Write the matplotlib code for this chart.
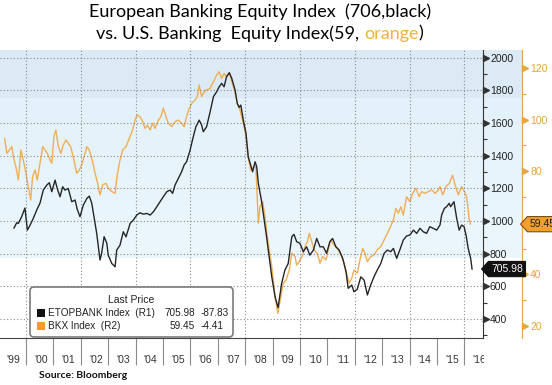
import numpy as np
import matplotlib
matplotlib.use('Agg')
import matplotlib.pyplot as plt
from matplotlib.path import Path
from matplotlib.patches import FancyBboxPatch, Rectangle
from matplotlib.transforms import blended_transform_factory, Bbox, TransformedBbox, IdentityTransform

# ETOPBANK Index (left scale, black)
etop_t = [1999.56, 1999.66, 1999.72, 1999.84, 1999.96,
          2000.05, 2000.15, 2000.27, 2000.39, 2000.51, 2000.63, 2000.76, 2000.85, 2000.94,
          2001.06, 2001.14, 2001.24, 2001.34, 2001.42, 2001.54, 2001.67, 2001.79, 2001.87, 2001.97,
          2002.09, 2002.22, 2002.31, 2002.40, 2002.48, 2002.58, 2002.70, 2002.76, 2002.85, 2002.95,
          2003.00, 2003.13, 2003.25, 2003.31, 2003.43, 2003.55, 2003.65, 2003.80, 2003.92,
          2004.04, 2004.16, 2004.28, 2004.41, 2004.53, 2004.65, 2004.77, 2004.89,
          2005.01, 2005.14, 2005.26, 2005.35, 2005.44, 2005.56, 2005.68, 2005.77, 2005.86, 2005.99,
          2006.08, 2006.20, 2006.32, 2006.41, 2006.47, 2006.59, 2006.72, 2006.84, 2006.96,
          2007.05, 2007.14, 2007.23, 2007.32, 2007.42, 2007.51, 2007.63, 2007.71, 2007.78, 2007.84, 2007.93,
          2008.03, 2008.11, 2008.20, 2008.27, 2008.36, 2008.42, 2008.48, 2008.60, 2008.78, 2008.97,
          2009.09, 2009.20, 2009.33, 2009.45, 2009.57, 2009.70, 2009.78, 2009.88,
          2010.00, 2010.12, 2010.24, 2010.36, 2010.49, 2010.61, 2010.73, 2010.85, 2010.97,
          2011.09, 2011.19, 2011.31, 2011.43, 2011.56, 2011.68, 2011.76, 2011.89, 2011.97,
          2012.09, 2012.22, 2012.34, 2012.46, 2012.58, 2012.70, 2012.82, 2012.95,
          2013.07, 2013.19, 2013.31, 2013.41, 2013.53, 2013.65, 2013.77, 2013.89,
          2014.01, 2014.14, 2014.26, 2014.38, 2014.50, 2014.62, 2014.74, 2014.86, 2014.99,
          2015.11, 2015.17, 2015.27, 2015.35, 2015.45, 2015.50, 2015.62, 2015.72, 2015.81, 2015.90, 2015.99,
          2016.06, 2016.14, 2016.23, 2016.28]
etop_v = [957, 989, 985, 1026, 1079,
          944, 975, 1018, 1067, 1109, 1189, 1220, 1234, 1179,
          1250, 1199, 1148, 1209, 1189, 1199, 1118, 1128, 1071, 1026,
          1097, 1138, 1152, 1108, 1026, 924, 761, 802, 904, 863,
          791, 740, 720, 822, 852, 934, 903, 985, 1006,
          1036, 1050, 1042, 1046, 1036, 1056, 1087, 1118,
          1148, 1179, 1189, 1169, 1220, 1261, 1301, 1342, 1362, 1434,
          1499, 1576, 1617, 1587, 1546, 1576, 1668, 1760, 1791,
          1821, 1842, 1821, 1883, 1907, 1872, 1801, 1719, 1695, 1709, 1617,
          1536, 1393, 1342, 1301, 1362, 1332, 1230, 1118, 903, 658,
          536, 470, 618, 700, 740, 903, 918, 873,
          863, 812, 842, 791, 822, 893, 842, 842, 802,
          873, 893, 842, 822, 771, 689, 588, 608, 567,
          582, 658, 638, 547, 608, 658, 700, 740,
          802, 822, 812, 832, 771, 826, 883, 908,
          914, 944, 924, 955, 934, 924, 965, 955, 944,
          975, 1036, 1077, 1087, 1108, 1087, 1118, 1016, 944, 975, 965,
          914, 832, 771, 705.98]

# BKX Index (right scale, orange)
bkx_t = [1999.22, 1999.30, 1999.39, 1999.48, 1999.54, 1999.64, 1999.72, 1999.81, 1999.90,
         2000.00, 2000.08, 2000.17, 2000.24, 2000.33, 2000.41, 2000.51, 2000.61, 2000.69, 2000.78, 2000.88, 2000.94,
         2001.02, 2001.09, 2001.18, 2001.27, 2001.36, 2001.46, 2001.54, 2001.63, 2001.75, 2001.85, 2001.95,
         2002.03, 2002.12, 2002.22, 2002.31, 2002.43, 2002.52, 2002.60, 2002.70, 2002.80, 2002.92,
         2003.00, 2003.13, 2003.25, 2003.33, 2003.43, 2003.53, 2003.65, 2003.77, 2003.89, 2003.98,
         2004.06, 2004.16, 2004.26, 2004.34, 2004.43, 2004.53, 2004.62, 2004.71, 2004.83, 2004.92,
         2005.01, 2005.11, 2005.19, 2005.32, 2005.44, 2005.56, 2005.68, 2005.77, 2005.86, 2005.96,
         2006.05, 2006.17, 2006.25, 2006.32, 2006.41, 2006.50, 2006.59, 2006.72, 2006.84, 2006.96,
         2007.05, 2007.14, 2007.23, 2007.32, 2007.42, 2007.51, 2007.63, 2007.71, 2007.81, 2007.93,
         2008.03, 2008.11, 2008.20, 2008.30, 2008.39, 2008.48, 2008.54, 2008.64, 2008.72, 2008.84, 2008.97,
         2009.09, 2009.19, 2009.30, 2009.39, 2009.49, 2009.61, 2009.70, 2009.82, 2009.88, 2009.97,
         2010.10, 2010.18, 2010.27, 2010.34, 2010.43, 2010.51, 2010.63, 2010.73, 2010.83, 2010.95,
         2011.03, 2011.12, 2011.24, 2011.36, 2011.49, 2011.61, 2011.73, 2011.80, 2011.89, 2011.97,
         2012.09, 2012.19, 2012.29, 2012.37, 2012.46, 2012.58, 2012.70, 2012.82, 2012.95,
         2013.07, 2013.16, 2013.28, 2013.41, 2013.50, 2013.59, 2013.68, 2013.77, 2013.89,
         2014.01, 2014.11, 2014.23, 2014.35, 2014.44, 2014.56, 2014.68, 2014.81, 2014.93,
         2015.05, 2015.11, 2015.21, 2015.33, 2015.45, 2015.57, 2015.66, 2015.78, 2015.90,
         2016.00, 2016.08, 2016.12, 2016.18, 2016.22]
bkx_v = [92.7, 86.9, 88.2, 89.5, 85.6, 81.1, 76.6, 88.2, 84.3,
         79.2, 74.0, 68.8, 77.9, 80.5, 76.6, 83.1, 89.5, 88.2, 86.9, 84.3, 83.1,
         93.4, 96.0, 89.5, 86.9, 90.2, 92.1, 90.8, 89.5, 84.3, 79.2, 80.5,
         82.4, 85.6, 89.5, 88.2, 83.7, 79.2, 75.9, 70.8, 74.7, 75.3,
         73.4, 72.1, 71.4, 78.5, 84.3, 88.2, 89.5, 92.7, 96.0, 99.8,
         101.8, 101.1, 99.2, 96.6, 97.9, 96.0, 98.6, 96.6, 99.8, 101.1,
         104.4, 101.1, 98.6, 97.3, 99.2, 99.8, 98.6, 97.3, 101.1, 104.4,
         106.3, 107.6, 108.9, 113.4, 108.9, 110.8, 111.5, 112.1, 114.7, 117.3,
         118.6, 116.0, 117.9, 116.6, 118.2, 114.7, 110.8, 106.3, 103.7, 98.6,
         93.4, 85.6, 80.5, 81.7, 81.7, 59.8, 66.2, 68.2, 62.4, 52.0, 43.0,
         31.4, 24.9, 31.4, 36.6, 37.8, 41.7, 48.2, 46.9, 43.6, 44.9,
         47.5, 50.7, 52.7, 55.9, 52.7, 49.5, 48.2, 44.3, 46.9, 45.6,
         49.5, 53.3, 51.4, 50.1, 47.5, 44.3, 39.1, 36.6, 38.5, 41.7,
         40.4, 45.6, 50.1, 48.2, 44.9, 46.9, 47.5, 49.5, 50.7,
         53.3, 55.3, 57.9, 61.1, 65.6, 63.7, 66.2, 63.0, 70.1,
         68.2, 71.4, 73.4, 70.1, 72.1, 71.4, 72.1, 72.7, 71.4,
         72.7, 74.0, 70.8, 74.0, 75.3, 78.5, 74.7, 70.8, 74.0,
         72.1, 70.1, 66.9, 61.1, 59.45]

years = list(range(1999, 2017))
left_ticks = list(range(400, 2001, 200))
right_ticks = list(range(20, 121, 20))
right_labels = ['20', '40', '', '80', '100', '120']   # 60 sits under the last-price tag
legend_rows = [('ETOPBANK Index  (R1)', '705.98', '-87.83'),
               ('BKX Index  (R2)', '59.45', '-4.41')]

BLACK = '#262626'
ORANGE = '#f1ae55'
ORANGE_AX = '#e9a640'

W, H = 552, 385
fig = plt.figure(figsize=(W / 100, H / 100), dpi=100)

# plot box in pixels (from top-left)
PL, PR, PT, PB = 0, 483, 50, 338
PR2 = 522


def fx(px):
    return px / W


def fy(py):
    return 1 - py / H


# banded light-blue background behind the plot and the first scale
bg = fig.add_axes([0, fy(PB), fx(PR2), (PB - PT) / H], zorder=-10)
rows = PB - PT
img = np.ones((rows, 1, 3))
c_top = np.array([219, 234, 244]) / 255
c_a = np.array([227, 241, 250]) / 255
c_b = np.array([236, 247, 253]) / 255
for i in range(rows):
    if i < 48:
        img[i, 0] = c_top
    elif i < 208:
        f = (i - 48) / 160
        img[i, 0] = c_a * (1 - f) + c_b * f
bg.imshow(img, aspect='auto', extent=[0, 1, 0, 1], interpolation='nearest')
bg.axis('off')

ax = fig.add_axes([fx(PL), fy(PB), fx(PR - PL), (PB - PT) / H], zorder=2)
ax.patch.set_visible(False)
ax2 = ax.twinx()
ax2.set_zorder(1)

ax2.plot(bkx_t, bkx_v, color=ORANGE, lw=1.0)
ax.plot(etop_t, etop_v, color=BLACK, lw=1.0)

ax.set_xlim(1999.05, 2016.68)
ax.set_ylim(284, 2046)
ax2.set_ylim(15.3, 127)

# grid
ax.set_yticks(left_ticks)
ax.set_yticks([v + 100 for v in [200] + left_ticks[:-1]], minor=True)
ax.grid(axis='y', which='major', ls=(0, (1, 2)), color='#8a8a8a', lw=0.8)
for yr in years[1::2]:
    ax.axvline(yr, ls=(0, (1, 2)), color='#8a8a8a', lw=0.8, zorder=0)

# x axis: separators at year boundaries, labels in between
ax.set_xticks(years[1:])
ax.tick_params(axis='x', which='major', length=19.5, width=0.8, color='#8c8c8c',
               labelbottom=False)
xlab_tr = blended_transform_factory(ax.transData, ax.transAxes)
clip = TransformedBbox(Bbox([[-0.1, -0.5], [484 / 483, 1.0]]), ax.transAxes)
for yr in years:
    t = ax.text(yr + 0.55, -22 / 288, "'%02d" % (yr % 100), transform=xlab_tr,
                ha='center', va='center', fontsize=7.5, color='#333333',
                family='Liberation Sans')
    t.set_clip_box(clip)
    t.set_clip_on(True)

# left (black) scale on the right side
for s in ['left', 'top']:
    ax.spines[s].set_visible(False)
ax.spines['right'].set_color('#333333')
ax.spines['bottom'].set_color('#444444')
ax.yaxis.tick_right()
ax.tick_params(axis='y', which='major', length=0, pad=5, labelsize=7.5, labelcolor='#222222')
ax.tick_params(axis='y', which='minor', length=3, width=0.8, color='#333333')
for lab in ax.get_yticklabels():
    lab.set_family('Liberation Sans')
tr1 = blended_transform_factory(ax.transAxes, ax.transData)
ax.plot([486 / 483] * len(left_ticks), left_ticks, ls='none', marker='>', ms=4,
        color='#333333', transform=tr1, clip_on=False)

# right (orange) scale
for s in ['left', 'top', 'bottom']:
    ax2.spines[s].set_visible(False)
ax2.spines['right'].set_position(('axes', PR2 / PR))
ax2.spines['right'].set_color(ORANGE_AX)
ax2.set_yticks(right_ticks, right_labels)
ax2.set_yticks([v + 10 for v in right_ticks[:-1]], minor=True)
ax2.tick_params(axis='y', which='major', length=0, pad=5.8, labelsize=7.5, labelcolor='#e8a33d')
ax2.tick_params(axis='y', which='minor', length=3, width=0.8, color=ORANGE_AX)
for lab in ax2.get_yticklabels():
    lab.set_family('Liberation Sans')
tr2 = blended_transform_factory(ax2.transAxes, ax2.transData)
ax2.plot([525 / 483] * len(right_ticks), right_ticks, ls='none', marker='>', ms=4,
         color=ORANGE_AX, transform=tr2, clip_on=False)


# last value tags with a pointed left side
def tag_box(x0, y0, width, height, mutation_size):
    pad = mutation_size * 0.25
    x0, y0 = x0 - pad, y0 - pad
    w, h = width + 2 * pad, height + 2 * pad
    tip = h * 0.45
    verts = [(x0 - tip, y0 + h / 2), (x0, y0), (x0 + w, y0), (x0 + w, y0 + h),
             (x0, y0 + h), (x0 - tip, y0 + h / 2)]
    return Path(verts, closed=True)


ax.text(491 / 483, etop_v[-1], '%.2f' % etop_v[-1], transform=tr1, ha='left', va='center',
        fontsize=7.5, color='white', family='Liberation Sans', clip_on=False, zorder=5,
        bbox=dict(boxstyle=tag_box, fc='#111111', ec='#111111', lw=0.8))
ax2.text(530 / 483, bkx_v[-1], '%.2f' % bkx_v[-1], transform=tr2, ha='left', va='center',
         fontsize=7.5, color='#222222', family='Liberation Sans', clip_on=False, zorder=5,
         bbox=dict(boxstyle=tag_box, fc='#f0a030', ec='#7a5010', lw=0.8))

# legend box
ax.add_artist(FancyBboxPatch((30, H - 337), 203, 50,
                             boxstyle='round,pad=0,rounding_size=4',
                             transform=IdentityTransform(), fc='white', ec='#7a7a7a',
                             lw=1.2, zorder=5, clip_on=False))


def axpt(px, py):
    return px / 483, (PB - py) / 288


LFS = 7.2
ax.text(*axpt(131, 300), 'Last Price', transform=ax.transAxes, ha='center', va='center',
        fontsize=LFS + 0.3, color='#222222', family='Liberation Sans', zorder=6)
for (name, last, chg), py, col in zip(legend_rows, [312.5, 326], ['#111111', '#f39c1f']):
    sx, sy = axpt(37, py + 4)
    ax.add_patch(Rectangle((sx, sy), 8 / 483, 8 / 288, transform=ax.transAxes,
                           fc=col, ec='none', zorder=6))
    ax.text(*axpt(48, py), name, transform=ax.transAxes, ha='left', va='center',
            fontsize=LFS, color='#222222', family='Liberation Sans', zorder=6)
    ax.text(*axpt(195, py), last, transform=ax.transAxes, ha='right', va='center',
            fontsize=LFS, color='#222222', family='Liberation Sans', zorder=6)
    ax.text(*axpt(201, py), chg, transform=ax.transAxes, ha='left', va='center',
            fontsize=LFS, color='#222222', family='Liberation Sans', zorder=6)

# title
fig.text(fx(260), fy(17), 'European Banking Equity Index  (706,black)', ha='center',
         va='baseline', fontsize=13, family='Lato', color='black')
parts = [('vs. U.S. Banking  Equity Index(59, ', 'black'), ('orange', '#f2b33a'), (')', 'black')]
r = fig.canvas.get_renderer()
texts = [fig.text(0, fy(38.5), s, ha='left', va='baseline', fontsize=13, family='Lato', color=c)
         for s, c in parts]
widths = [t.get_window_extent(r).width for t in texts]
x = 260 - sum(widths) / 2
for t, w in zip(texts, widths):
    t.set_x(fx(x))
    x += w

fig.text(fx(39), fy(378), 'Source: Bloomberg', ha='left', va='baseline', fontsize=7.5,
         family='Lato', fontweight='bold', color='#111111')

fig.savefig('out.png', dpi=100, facecolor='white')
